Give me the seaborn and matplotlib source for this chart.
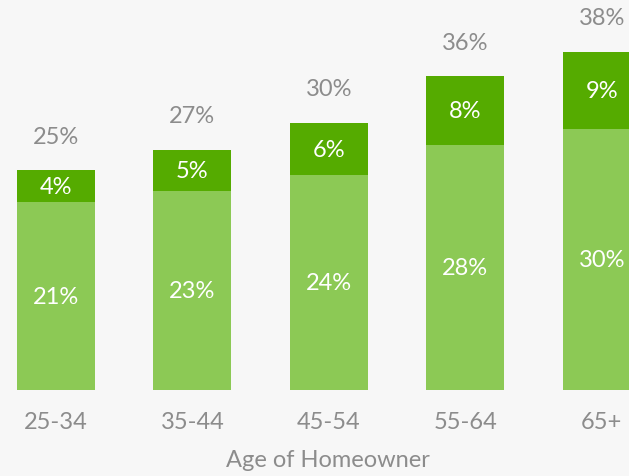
import seaborn as sns
import numpy as np
import pandas as pd
import matplotlib.pyplot as plt

ages = ["25-34", "35-44", "45-54", "55-64", "65+"]
# bar heights (labels below are rounded)
base = [21.1, 22.3, 24.1, 27.5, 29.3]
total = [24.7, 27.0, 30.0, 35.2, 38.0]
base_lbl = [21, 23, 24, 28, 30]
extra_lbl = [4, 5, 6, 8, 9]
total_lbl = [25, 27, 30, 36, 38]

light = "#8cc955"
dark = "#55ab00"
grey = "#8c8c8c"
bg = "#f7f7f7"

sns.set_style("white")
plt.rcParams['font.family'] = ['Lato', 'DejaVu Sans']

df = pd.DataFrame({"age": ages, "base": base, "total": total})

fig = plt.figure(figsize=(6.29, 4.77), dpi=100, facecolor=bg)
ax = fig.add_axes([0, (477 - 391) / 477, 1, 391 / 477])
ax.set_facecolor(bg)

sns.barplot(data=df, x="age", y="total", color=dark, width=0.57,
            saturation=1, linewidth=0, ax=ax)
sns.barplot(data=df, x="age", y="base", color=light, width=0.57,
            saturation=1, linewidth=0, ax=ax)

fs = 17
for i in range(len(ages)):
    ax.text(i, total[i] + 3.8, f"{total_lbl[i]}%", ha="center", va="center",
            color=grey, fontsize=fs)
    ax.text(i, (base[i] + total[i]) / 2, f"{extra_lbl[i]}%", ha="center",
            va="center", color="white", fontsize=fs)
    ax.text(i, base[i] / 2, f"{base_lbl[i]}%", ha="center", va="center",
            color="white", fontsize=fs)

ax.set_xlim(-0.41, 4.2)
ax.set_ylim(0, 43.9)
ax.set_yticks([])
ax.tick_params(axis="x", length=0, pad=15, labelsize=fs, labelcolor=grey)
ax.set_xlabel("Age of Homeowner", fontsize=fs, color=grey)
ax.xaxis.set_label_coords(0.5215, -0.152)
ax.set_ylabel("")
sns.despine(ax=ax, left=True, bottom=True)

fig.savefig("out.png", dpi=100, facecolor=bg)
